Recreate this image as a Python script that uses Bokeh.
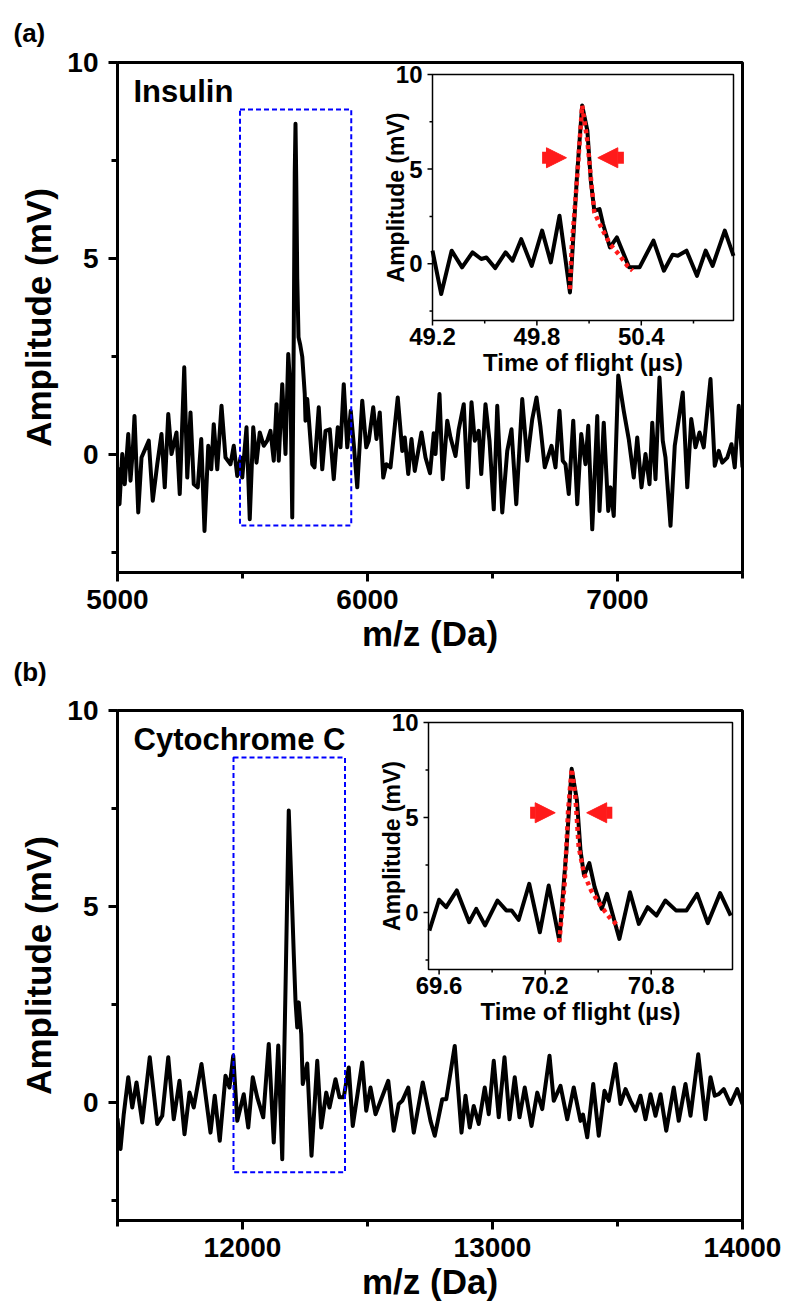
import numpy as np
from bokeh.plotting import figure
from bokeh.models import Range1d, FixedTicker, BoxAnnotation, Title, Arrow, NormalHead
from bokeh.layouts import column
from bokeh.embed import file_html
from bokeh.resources import INLINE
from bokeh.core.properties import value

FONT = "Liberation Sans"

# ---------------- data: panel (a) Insulin ----------------
a_mz = [5000, 5008, 5019, 5029, 5043, 5052, 5061, 5068, 5083, 5096, 5125, 5141, 5159, 5176,
        5189, 5203, 5216, 5236, 5249, 5267, 5279, 5292, 5305, 5321, 5335, 5348, 5363, 5375,
        5385, 5399, 5416, 5432, 5452, 5465, 5479, 5492, 5499, 5516, 5529, 5543, 5556, 5569,
        5585, 5599, 5612, 5625, 5636, 5645, 5659, 5672, 5683, 5692, 5699, 5705, 5709, 5712,
        5715, 5719, 5724, 5731, 5739, 5749, 5752, 5759, 5765, 5779, 5788, 5805, 5819, 5832,
        5849, 5865, 5881, 5892, 5905, 5919, 5933, 5945, 5959, 5979, 5995, 6005, 6023, 6036,
        6049, 6063, 6075, 6092, 6121, 6139, 6149, 6163, 6176, 6189, 6216, 6232, 6250, 6265,
        6272, 6288, 6301, 6319, 6332, 6352, 6365, 6385, 6401, 6416, 6429, 6445, 6455, 6472,
        6488, 6505, 6519, 6539, 6559, 6576, 6595, 6619, 6639, 6659, 6676, 6692, 6709, 6736,
        6752, 6768, 6781, 6792, 6805, 6823, 6839, 6855, 6872, 6883, 6899, 6919, 6928, 6945,
        6963, 6972, 6985, 7003, 7025, 7045, 7065, 7079, 7096, 7112, 7128, 7139, 7152, 7168,
        7181, 7192, 7212, 7229, 7261, 7279, 7295, 7312, 7328, 7345, 7372, 7389, 7405, 7419,
        7439, 7456, 7469, 7485, 7500]
a_amp = [-0.32, -1.26, 0.02, -0.75, 0.53, -0.66, 0.10, 0.99, -1.47, -0.07, 0.36, -1.17, -0.24, 0.53,
         -0.83, 1.04, 0.02, 0.57, -1.00, 2.23, -0.58, 1.08, -0.75, -0.83, 0.40, -1.94, 0.23, -0.37,
         0.78, -0.37, 1.25, -0.07, -0.24, 0.23, -0.54, -0.07, -0.58, 0.70, -1.64, 0.70, -0.20, 0.57,
         0.23, 0.36, 0.61, -0.15, 1.29, -0.15, 1.80, 0.02, 2.57, 1.63, -1.60, 3.00, 7.20, 8.44,
         7.00, 4.50, 3.00, 2.80, 2.50, 1.55, 0.87, 1.42, 0.95, -0.24, -0.32, 1.21, -0.37, 0.61,
         0.65, -0.62, 0.70, 0.19, 1.80, 0.19, 1.12, 0.27, -0.83, 1.38, 0.19, 0.36, 1.21, 0.40,
         1.08, -0.58, -0.24, -0.32, 1.46, 0.10, 0.44, -0.49, 0.40, -0.41, 0.57, -0.07, -0.47, 0.55,
         0.02, 1.55, -0.62, 0.87, 0.44, -0.03, 0.65, 1.29, -0.83, 1.34, 0.36, 0.61, -0.49, 1.29,
         0.36, -1.39, 1.25, -1.47, 0.10, 0.65, -1.26, 1.42, -0.15, 0.91, 1.46, 0.70, -0.32, 0.23,
         -0.32, 1.12, -0.15, -0.24, -1.00, 0.87, -1.26, 0.53, -0.24, 0.74, -1.90, 0.99, -1.43, 0.82,
         -1.43, -0.83, -1.56, 2.02, 1.12, 0.40, -0.58, 0.44, -0.83, 0.02, -0.75, 0.82, -0.62, 1.97,
         0.36, -0.07, -1.81, 0.23, 1.59, -0.83, 0.91, 0.19, 0.57, 0.19, 1.93, -0.28, 0.10, -0.20,
         -0.07, 0.27, -0.32, 1.25, -0.32]

a_tof = [49.20, 49.25, 49.31, 49.37, 49.43, 49.48, 49.51, 49.56, 49.62, 49.66, 49.71, 49.77,
         49.83, 49.88, 49.93, 49.99, 50.03, 50.06, 50.09, 50.11, 50.13, 50.16, 50.18, 50.22,
         50.26, 50.33, 50.39, 50.47, 50.53, 50.58, 50.61, 50.66, 50.72, 50.77, 50.81, 50.88, 50.93]
a_tof_amp = [0.69, -1.60, 0.69, -0.19, 0.60, 0.25, 0.33, -0.23, 0.60, 0.16, 1.30, -0.11,
             1.75, 0.07, 2.54, -1.52, 4.57, 8.36, 7.04, 4.39, 2.80, 2.89, 2.10, 0.86,
             1.39, -0.19, -0.19, 1.22, -0.37, 0.48, 0.42, 0.69, -0.64, 0.69, -0.11, 1.75, 0.42]
a_fit_tof = [49.99, 50.00, 50.03, 50.06, 50.09, 50.11, 50.13, 50.17, 50.22, 50.27, 50.32, 50.35]
a_fit_amp = [-1.34, 0.86, 4.39, 8.36, 6.50, 4.57, 2.72, 1.92, 1.04, 0.51, -0.11, -0.37]
a_arrow_left = [49.83, 49.97]
a_arrow_right = [50.30, 50.15]
a_arrow_level = 5.6
a_box = [5490, 5935, -1.8, 8.8]          # left, right, bottom, top
a_xlim = [5000, 7500]
a_xticks = [5000, 6000, 7000]
a_xminor = [5500, 6500, 7500]
a_inset_xlim = [49.2, 50.93]
a_inset_xticks = [49.2, 49.8, 50.4]
a_inset_xminor = [49.5, 50.1, 50.7]

# ---------------- data: panel (b) Cytochrome C ----------------
b_mz = [11500, 11512, 11525, 11543, 11559, 11576, 11599, 11629, 11659, 11679, 11703, 11725,
        11748, 11768, 11788, 11805, 11836, 11872, 11889, 11909, 11932, 11948, 11963, 11979,
        12005, 12023, 12041, 12059, 12083, 12105, 12125, 12143, 12159, 12172, 12185, 12196,
        12205, 12212, 12219, 12225, 12235, 12241, 12259, 12276, 12299, 12315, 12335, 12348,
        12372, 12388, 12405, 12425, 12441, 12479, 12495, 12512, 12532, 12583, 12605, 12625,
        12639, 12663, 12685, 12721, 12752, 12769, 12799, 12815, 12849, 12876, 12892, 12909,
        12925, 12945, 12969, 12985, 13005, 13025, 13048, 13068, 13089, 13108, 13129, 13156,
        13179, 13199, 13228, 13245, 13272, 13299, 13325, 13352, 13362, 13379, 13403, 13425,
        13448, 13465, 13492, 13512, 13532, 13552, 13572, 13592, 13612, 13632, 13652, 13672,
        13695, 13725, 13745, 13772, 13792, 13823, 13852, 13872, 13889, 13905, 13925, 13952,
        13979, 14000]
b_amp = [-0.40, -1.18, -0.29, 0.65, -0.12, 0.52, -0.50, 1.16, -0.54, -0.33, 1.16, -0.42,
         0.56, -0.80, 0.26, -0.12, 0.99, -0.76, 0.18, -0.97, 0.69, 0.39, 1.20, -0.46,
         0.22, -0.63, 0.65, 0.14, -0.37, 1.50, -1.01, 1.46, -1.44, 2.90, 7.45, 5.50,
         3.80, 2.60, 1.92, 2.56, 1.75, 0.48, 1.00, -1.35, 1.07, -0.63, 0.26, -0.12,
         0.60, 0.14, 0.14, 0.90, -0.59, 1.03, -0.20, 0.39, -0.29, 0.56, -0.71, -0.03,
         0.05, 0.39, -0.76, 0.52, -0.46, -0.84, 0.09, 0.09, 1.45, -0.76, 0.18, -0.63,
         -0.08, -0.54, 0.39, -0.29, 1.07, -0.37, 1.16, -0.42, 0.65, -0.37, 0.39, -0.59,
         0.26, -0.16, 1.20, 0.05, 0.43, -0.42, 0.39, -0.46, -0.30, -0.88, 0.48, -0.84,
         0.31, 0.05, 0.99, -0.03, 0.35, 0.05, -0.20, 0.18, -0.42, 0.22, -0.33, 0.22,
         -0.71, 0.39, -0.46, 0.48, -0.33, 1.24, -0.42, 0.65, 0.18, 0.22, 0.35, -0.03,
         0.35, -0.03]

b_tof = [69.545, 69.60, 69.64, 69.70, 69.77, 69.81, 69.86, 69.93, 69.98, 70.01, 70.05, 70.11,
         70.17, 70.22, 70.28, 70.32, 70.35, 70.38, 70.40, 70.42, 70.45, 70.48, 70.52, 70.55,
         70.62, 70.68, 70.73, 70.78, 70.83, 70.88, 70.94, 71.00, 71.06, 71.12, 71.19, 71.25]
b_tof_amp = [-0.95, 0.67, 0.28, 1.16, -0.51, 0.19, -0.68, 0.63, 0.11, 0.11, -0.39, 1.51,
             -1.04, 1.42, -1.47, 3.26, 7.56, 5.89, 3.26, 1.95, 2.60, 1.33, 0.19, 0.98,
             -1.39, 1.07, -0.60, 0.28, -0.16, 0.63, 0.11, 0.11, 0.98, -0.56, 1.02, -0.16]
b_fit_tof = [70.28, 70.31, 70.33, 70.35, 70.37, 70.39, 70.42, 70.46, 70.52, 70.57, 70.62]
b_fit_amp = [-1.56, 1.51, 5.37, 7.56, 6.25, 3.44, 2.04, 1.16, 0.28, -0.33, -0.77]
b_arrow_left = [70.115, 70.257]
b_arrow_right = [70.58, 70.435]
b_arrow_level = 5.25
b_box = [11964, 12410, -1.77, 8.8]
b_xlim = [11500, 14000]
b_xticks = [12000, 13000, 14000]
b_xminor = [11500, 12500, 13500]
b_inset_xlim = [69.54, 71.26]
b_inset_xticks = [69.6, 70.2, 70.8]
b_inset_xminor = [69.9, 70.5, 71.1]

# shared
y_lim = [-3, 10]
y_ticks = [0, 5, 10]
y_minor = [-2.5, 2.5, 7.5]

# ---------------- layout constants ----------------
FW, FH = 625, 510
LEFT, RIGHT = 117, 48
RED = "#ff1a1a"


def tag_title(text, valign, standoff):
    return Title(text=text, align="left", offset=-104, standoff=standoff,
                 vertical_align=valign,
                 text_font=FONT, text_font_style="bold", text_font_size="26px",
                 text_color="black")


def style_axes(p, xticks, xminor, label_standoff, title_standoff):
    p.xaxis.ticker = FixedTicker(ticks=xticks, minor_ticks=xminor)
    p.yaxis.ticker = FixedTicker(ticks=y_ticks, minor_ticks=y_minor)
    for ax in list(p.xaxis) + list(p.yaxis):
        ax.axis_line_width = 3
        ax.axis_line_color = "black"
        ax.major_tick_line_width = 3
        ax.minor_tick_line_width = 3
        ax.major_tick_line_color = "black"
        ax.minor_tick_line_color = "black"
        ax.major_tick_in = 0
        ax.major_tick_out = 9
        ax.minor_tick_in = 0
        ax.minor_tick_out = 6
        ax.major_label_text_font = FONT
        ax.major_label_text_font_style = "bold"
        ax.major_label_text_font_size = "28px"
        ax.major_label_text_color = "black"
        ax.axis_label_text_font = FONT
        ax.axis_label_text_font_style = "bold"
        ax.axis_label_text_font_size = "35px"
        ax.axis_label_text_color = "black"
    p.xaxis.major_label_standoff = label_standoff
    p.xaxis.axis_label_standoff = title_standoff
    p.yaxis.major_label_standoff = 10
    p.yaxis.axis_label_standoff = 6


def add_inset(p, name, tof, amp, fit_tof, fit_amp, xlim, xticks, xminor,
              arr_l, arr_r, arr_y, geom):
    L, R, T, B = geom
    x0, x1 = xlim
    y0, y1 = y_lim
    sx = (x1 - x0) / (R - L)
    sy = (y1 - y0) / (B - T)
    p.extra_x_ranges[name] = Range1d(x0 - L * sx, x0 + (FW - L) * sx)
    p.extra_y_ranges[name] = Range1d(y0 - (FH - B) * sy, y1 + T * sy)
    kw = dict(x_range_name=name, y_range_name=name)
    p.quad(left=[x0], right=[x1], bottom=[y0], top=[y1], fill_color="white",
           line_color="black", line_width=1.5, **kw)
    p.line(tof, amp, line_color="black", line_width=4, line_join="round", **kw)
    p.line(fit_tof, fit_amp, line_color=RED, line_width=4.5, line_dash="4 4", **kw)
    # ticks
    p.ray(x=[x0] * len(y_ticks), y=y_ticks, length=5, length_units="screen",
          angle=np.pi, line_color="black", line_width=1.5, **kw)
    p.ray(x=[x0] * len(y_minor), y=y_minor, length=3, length_units="screen",
          angle=np.pi, line_color="black", line_width=1.5, **kw)
    p.ray(x=xticks, y=[y0] * len(xticks), length=5, length_units="screen",
          angle=-np.pi / 2, line_color="black", line_width=1.5, **kw)
    p.ray(x=xminor, y=[y0] * len(xminor), length=3, length_units="screen",
          angle=-np.pi / 2, line_color="black", line_width=1.5, **kw)
    txt = dict(text_font=value(FONT), text_font_style="bold", text_color="black")
    p.text(x=[x0] * len(y_ticks), y=y_ticks, text=[str(v) for v in y_ticks],
           x_offset=-10, text_align="right", text_baseline="middle",
           text_font_size="24px", **txt, **kw)
    p.text(x=xticks, y=[y0] * len(xticks), text=[f"{v:.1f}" for v in xticks],
           y_offset=7, text_align="center", text_baseline="top",
           text_font_size="24px", **txt, **kw)
    p.text(x=[(x0 + x1) / 2], y=[y0], text=["Time of flight (\u00b5s)"],
           y_offset=28, text_align="center", text_baseline="top",
           text_font_size="24px", **txt, **kw)
    p.text(x=[x0], y=[(y0 + y1) / 2], text=["Amplitude (mV)"], angle=np.pi / 2,
           x_offset=-37, text_align="center", text_baseline="alphabetic",
           text_font_size="23px", **txt, **kw)
    for xs in (arr_l, arr_r):
        p.add_layout(Arrow(end=NormalHead(size=20, fill_color=RED, line_color=RED,
                                          line_width=1),
                           x_start=xs[0], x_end=xs[1], y_start=arr_y, y_end=arr_y,
                           line_color=RED, line_width=12, **kw))


def main_panel(height, top, bottom, name, xlim, xticks, xminor, mz, amp, box,
               label_standoff, title_standoff):
    p = figure(width=790, height=height, x_range=Range1d(*xlim), y_range=Range1d(*y_lim),
               output_backend="svg", toolbar_location=None, title=None,
               min_border_left=LEFT, min_border_right=RIGHT,
               min_border_top=top, min_border_bottom=bottom)
    p.xgrid.visible = False
    p.ygrid.visible = False
    p.outline_line_color = "black"
    p.outline_line_width = 3
    p.outline_line_alpha = 1
    p.background_fill_color = "white"
    p.border_fill_color = "white"
    p.xaxis.axis_label = "m/z (Da)"
    p.yaxis.axis_label = "Amplitude (mV)"
    style_axes(p, xticks, xminor, label_standoff, title_standoff)
    p.line(mz, amp, line_color="black", line_width=4, line_join="round")
    p.add_layout(BoxAnnotation(left=box[0], right=box[1], bottom=box[2], top=box[3],
                               fill_alpha=0, line_color="#0000ff", line_alpha=1,
                               line_width=2, line_dash="5 3"))
    p.text(x=[xlim[0]], y=[y_lim[1]], text=[name], x_offset=16, y_offset=11,
           text_align="left", text_baseline="top", text_font=value(FONT),
           text_font_style="bold", text_font_size="31px", text_color="black")
    return p


pa = main_panel(693, 62, 121, "Insulin", a_xlim, a_xticks, a_xminor, a_mz, a_amp,
                a_box, 8, 2)
pa.add_layout(tag_title("(a)", "top", 26), "above")
pa.add_layout(tag_title("(b)", "middle", 0), "below")
add_inset(pa, "ia", a_tof, a_tof_amp, a_fit_tof, a_fit_amp, a_inset_xlim, a_inset_xticks,
          a_inset_xminor, a_arrow_left, a_arrow_right, a_arrow_level, (315, 616, 12, 258))

pb = main_panel(616, 17, 89, "Cytochrome C", b_xlim, b_xticks, b_xminor, b_mz, b_amp,
                b_box, 8, 2)
add_inset(pb, "ib", b_tof, b_tof_amp, b_fit_tof, b_fit_amp, b_inset_xlim, b_inset_xticks,
          b_inset_xminor, b_arrow_left, b_arrow_right, b_arrow_level, (311, 615, 12, 259))

layout = column(pa, pb, spacing=0)
open("out.html", "w").write(file_html(layout, INLINE))
